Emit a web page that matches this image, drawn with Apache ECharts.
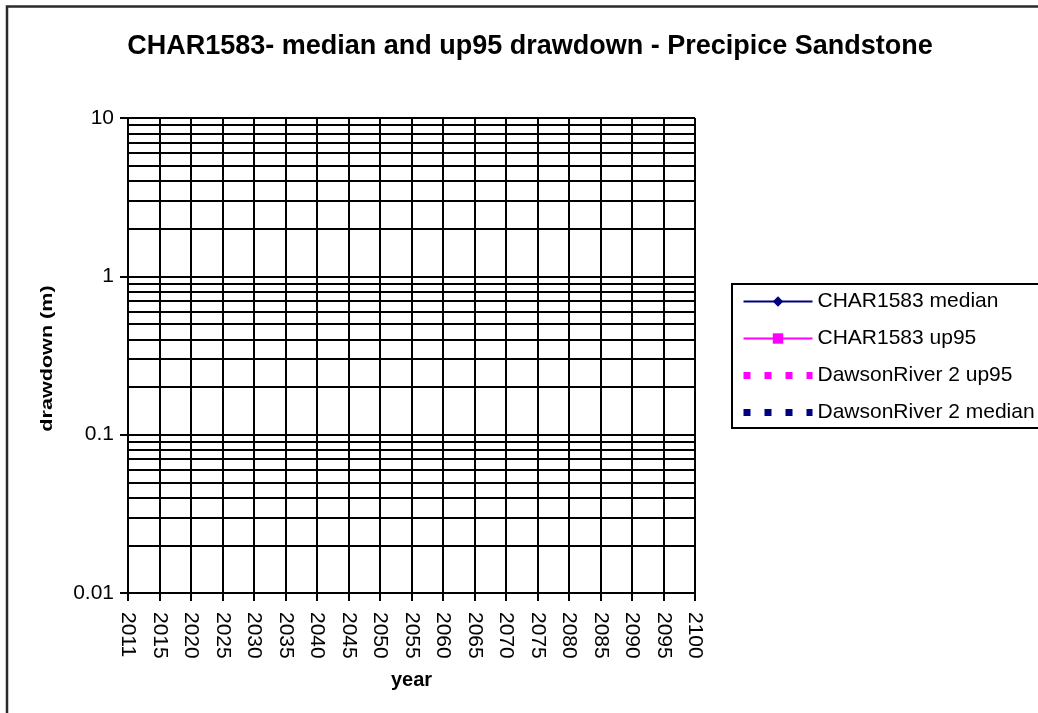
<!DOCTYPE html>
<html><head><meta charset="utf-8">
<script src="https://cdn.jsdelivr.net/npm/echarts@6/dist/echarts.min.js"></script>
<style>html,body{margin:0;padding:0;background:#fff}#c{width:1038px;height:713px}</style>
</head><body><div id="c"></div>
<script>
const titleText = 'CHAR1583- median and up95 drawdown - Precipice Sandstone';
const xAxisTitle = 'year';
const yAxisTitle = 'drawdown (m)';
const years = ['2011','2015','2020','2025','2030','2035','2040','2045','2050','2055','2060','2065','2070','2075','2080','2085','2090','2095','2100'];
const yMin = 0.01;
const yMax = 10;
const seriesNames = ['CHAR1583 median','CHAR1583 up95','DawsonRiver 2 up95','DawsonRiver 2 median'];
// The reference chart shows no plotted values for any series
const char1583Median = [];
const char1583Up95 = [];
const dawsonRiver2Up95 = [];
const dawsonRiver2Median = [];

const FONT = "'Liberation Sans', Arial, Helvetica, sans-serif";
const NAVY = '#000080';
const MAGENTA = '#ff00ff';
const BLACK = '#000';

const chart = echarts.init(document.getElementById('c'), null, {renderer: 'canvas'});
chart.setOption({
  animation: false,
  backgroundColor: '#fff',
  textStyle: {fontFamily: FONT, color: BLACK},
  title: {
    text: titleText,
    left: 525, top: 28, textAlign: 'center',
    textStyle: {fontFamily: FONT, fontSize: 27, fontWeight: 'bold', color: BLACK}
  },
  graphic: [{
    type: 'rect', silent: true, z: 100,
    shape: {x: 7, y: 6.5, width: 1100, height: 800},
    style: {fill: 'none', stroke: '#2a2a2a', lineWidth: 2.5}
  }, {
    type: 'text', silent: true, z: 100,
    x: 47.5, y: 358.5, rotation: Math.PI / 2, scaleX: 1.35, scaleY: 1,
    style: {text: yAxisTitle, font: "bold 16px 'Liberation Sans', Arial, sans-serif",
            fill: BLACK, align: 'center', verticalAlign: 'middle'}
  }],
  legend: {
    orient: 'vertical',
    left: 732, top: 284,
    padding: [7, 40, 5, 8],
    itemWidth: 69, itemHeight: 13, itemGap: 16,
    backgroundColor: '#fff', borderColor: BLACK, borderWidth: 2,
    lineStyle: {width: 'inherit', type: 'inherit'},
    textStyle: {fontFamily: FONT, fontSize: 21, color: BLACK},
    data: seriesNames
  },
  grid: {left: 128, right: 343, top: 118, bottom: 120, containLabel: false, outerBoundsMode: 'none'},
  xAxis: {
    type: 'category', data: years, boundaryGap: false,
    name: xAxisTitle, nameLocation: 'middle', nameGap: 77,
    nameTextStyle: {fontFamily: FONT, fontSize: 20, fontWeight: 'bold', color: BLACK},
    axisLine: {show: true, lineStyle: {color: BLACK, width: 2}},
    axisTick: {show: true, interval: 0, length: 8, lineStyle: {color: BLACK, width: 2}},
    axisLabel: {interval: 0, rotate: -90, margin: 19, fontFamily: FONT, fontSize: 21, color: BLACK},
    splitLine: {show: true, interval: 0, lineStyle: {color: BLACK, width: 2}}
  },
  yAxis: {
    type: 'log', logBase: 10, min: yMin, max: yMax,
    axisLine: {show: true, lineStyle: {color: BLACK, width: 2}},
    axisTick: {show: true, length: 8, lineStyle: {color: BLACK, width: 2}},
    axisLabel: {margin: 14, fontFamily: FONT, fontSize: 21, color: BLACK},
    splitLine: {show: true, lineStyle: {color: BLACK, width: 2}},
    minorTick: {show: false, splitNumber: 9},
    minorSplitLine: {show: true, lineStyle: {color: BLACK, width: 2}}
  },
  series: [
    {name: seriesNames[0], type: 'line', data: char1583Median, symbol: 'diamond', symbolSize: 10,
     lineStyle: {color: NAVY, width: 2}, itemStyle: {color: NAVY, borderWidth: 0}},
    {name: seriesNames[1], type: 'line', data: char1583Up95, symbol: 'rect', symbolSize: 10,
     lineStyle: {color: MAGENTA, width: 2}, itemStyle: {color: MAGENTA, borderWidth: 0}},
    {name: seriesNames[2], type: 'line', data: dawsonRiver2Up95, symbol: 'none',
     lineStyle: {color: MAGENTA, width: 7, type: [7, 14]},
     itemStyle: {color: 'rgba(0,0,0,0)', borderColor: 'rgba(0,0,0,0)', borderWidth: 0}},
    {name: seriesNames[3], type: 'line', data: dawsonRiver2Median, symbol: 'none',
     lineStyle: {color: NAVY, width: 7, type: [7, 14]},
     itemStyle: {color: 'rgba(0,0,0,0)', borderColor: 'rgba(0,0,0,0)', borderWidth: 0}}
  ]
});
</script>
</body></html>
